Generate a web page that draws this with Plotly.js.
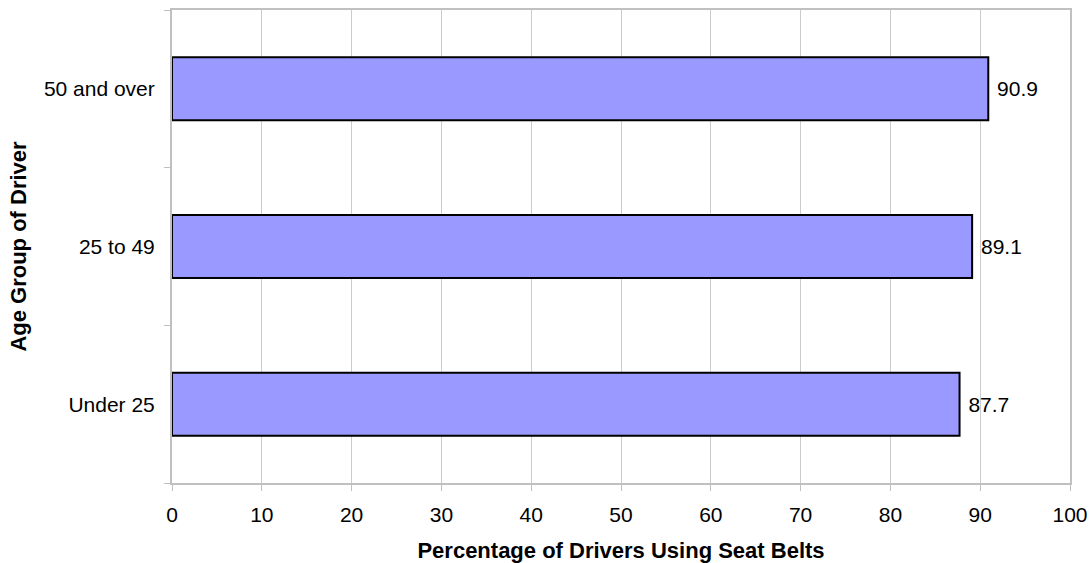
<!DOCTYPE html>
<html>
<head>
<meta charset="utf-8">
<script src="https://cdn.plot.ly/plotly-3.0.1.min.js"></script>
<style>html,body{margin:0;padding:0;background:#fff;}#chart{width:1091px;height:563px;}</style>
</head>
<body>
<div id="chart"></div>
<script>
const categories = ["Under 25", "25 to 49", "50 and over"];
const percentages = [87.7, 89.1, 90.9];
const valueLabels = ["87.7", "89.1", "90.9"];
const xTickValues = [0, 10, 20, 30, 40, 50, 60, 70, 80, 90, 100];

const trace = {
  type: "bar",
  orientation: "h",
  y: categories,
  x: percentages,
  text: valueLabels,
  texttemplate: "\u00a0%{text}",
  textposition: "outside",
  cliponaxis: false,
  textfont: {family: "Liberation Sans, Arial, sans-serif", size: 21, color: "#000"},
  marker: {color: "#9999ff", line: {color: "#000", width: 2}},
  width: 0.4,
  hoverinfo: "skip"
};

const layout = {
  width: 1091,
  height: 563,
  margin: {l: 172, r: 21, t: 10, b: 80},
  paper_bgcolor: "#fff",
  plot_bgcolor: "#fff",
  font: {family: "Liberation Sans, Arial, sans-serif", size: 21, color: "#000"},
  showlegend: false,
  xaxis: {
    range: [0, 100],
    tickvals: xTickValues,
    ticktext: xTickValues.map(String),
    showgrid: true,
    gridcolor: "#cccccc",
    gridwidth: 1,
    zeroline: false,
    showline: true,
    linecolor: "#c0c0c0",
    linewidth: 2,
    mirror: true,
    ticks: "outside",
    ticklen: 6,
    tickcolor: "#c0c0c0",
    tickwidth: 1,
    tickfont: {size: 21},
    ticklabelstandoff: 6,
    title: {text: "Percentage of Drivers Using Seat Belts", font: {size: 22, weight: "bold"}, standoff: 18}
  },
  yaxis: {
    type: "category",
    categoryorder: "array",
    categoryarray: categories,
    showgrid: false,
    zeroline: false,
    showline: true,
    linecolor: "#c0c0c0",
    linewidth: 2,
    mirror: true,
    ticks: "outside",
    tickson: "boundaries",
    ticklen: 6,
    tickcolor: "#c0c0c0",
    tickwidth: 1,
    tickfont: {size: 21},
    ticklabelstandoff: 11,
    title: {text: "Age Group of Driver", font: {size: 22, weight: "bold"}, standoff: 11}
  }
};

Plotly.newPlot("chart", [trace], layout, {displayModeBar: false, staticPlot: true});
</script>
</body>
</html>
